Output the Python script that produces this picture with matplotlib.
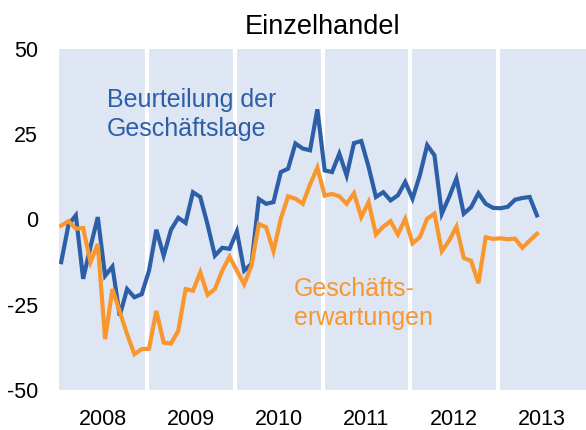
import matplotlib
matplotlib.use("Agg")
import matplotlib.pyplot as plt
import numpy as np

plt.rcParams['font.family'] = ['Liberation Sans', 'DejaVu Sans']

title = "Einzelhandel"
year_labels = ["2008", "2009", "2010", "2011", "2012", "2013"]
start_year = 2008

lage = [-12.5, -1.5, 1.2, -17.4, -8.0, 0.7, -16.5, -13.8, -28.2, -20.4, -22.8, -21.9,
        -15.0, -3.0, -10.6, -3.0, 0.5, -1.0, 8.0, 6.6, -1.5, -10.6, -8.3, -8.6,
        -3.5, -15.0, -13.0, 6.0, 4.6, 5.1, 13.9, 14.9, 22.3, 20.8, 20.3, 32.3,
        14.4, 13.9, 19.3, 12.9, 22.4, 23.0, 15.4, 6.6, 8.0, 5.6, 7.1, 11.0,
        6.1, 13.0, 21.8, 18.8, 1.7, 6.6, 12.0, 1.7, 3.6, 7.7, 4.6, 3.4,
        3.3, 3.7, 5.8, 6.3, 6.6, 1.2]

erwartungen = [-1.8, -0.5, -2.7, -2.5, -12.5, -7.2, -35.1, -20.4, -27.0, -33.6, -39.5, -38.0,
               -37.9, -26.8, -36.1, -36.4, -32.6, -20.4, -20.9, -15.5, -22.1, -20.4, -15.0, -10.9,
               -15.0, -19.0, -13.5, -1.3, -2.3, -9.3, 0.2, 6.8, 6.1, 4.6, 10.3, 15.2,
               7.0, 7.5, 6.8, 4.6, 7.7, 0.7, 5.1, -4.4, -2.1, -0.5, -4.4, 0.2,
               -7.0, -5.2, 0.2, 1.7, -9.3, -6.2, -2.1, -11.3, -12.1, -18.7, -5.2, -5.7,
               -5.5, -5.8, -5.6, -8.3, -6.2, -4.2]

blue = '#2c5fa8'
orange = '#f7972e'
bg = '#dfe6f3'

fig = plt.figure(figsize=(5.86, 4.30), dpi=100)
ax = fig.add_axes([59/586, 1 - 390/430, 1 - 59/586, (390 - 49)/430])
ax.set_facecolor(bg)

x = start_year + (np.arange(len(lage)) + 0.3) / 12.0
ax.plot(x, lage, color=blue, lw=3.0, solid_joinstyle='miter', zorder=3)
ax.plot(x, erwartungen, color=orange, lw=3.0, solid_joinstyle='miter', zorder=3)

n_years = len(year_labels)
for k in range(1, n_years):
    ax.axvline(start_year + k, color='white', lw=3.0, zorder=1)

ax.set_xlim(start_year, start_year + n_years)
ax.set_ylim(-50, 50)
ax.set_yticks([-50, -25, 0, 25, 50])
ax.set_yticklabels(['-50', '-25', '0', '25', '50'])
ax.set_xticks(start_year + np.arange(n_years) + 0.5)
ax.set_xticklabels(year_labels)
ax.tick_params(axis='both', length=0, labelsize=15.5)
ax.tick_params(axis='y', pad=15)
ax.tick_params(axis='x', pad=14)
for s in ax.spines.values():
    s.set_visible(False)

fig.text((59 + 586) / 2 / 586, 1 - 27/430, title, ha='center', va='center', fontsize=19.5)

ax.text(107/586, 1 - 136/430, "Beurteilung der\nGeschäftslage", transform=fig.transFigure,
        color=blue, fontsize=18, ha='left', va='baseline', linespacing=1.25)
ax.text(294/586, 1 - 325/430, "Geschäfts-\nerwartungen", transform=fig.transFigure,
        color=orange, fontsize=18, ha='left', va='baseline', linespacing=1.25)

fig.savefig("out.png", dpi=100)
